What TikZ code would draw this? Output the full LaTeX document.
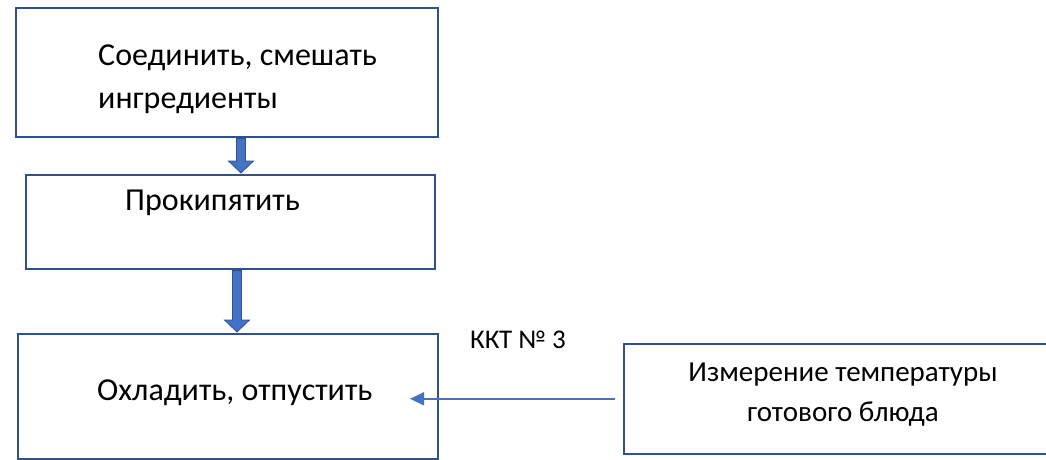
\documentclass[tikz,border=0pt]{standalone}
\usepackage{fontspec}
\setmainfont{Carlito}
\usetikzlibrary{positioning,calc,arrows.meta}
\definecolor{rahmen}{HTML}{2F528F}
\definecolor{pfeil}{HTML}{4472C4}

\begin{document}
\begin{tikzpicture}[
  x=1pt, y=-1pt,
  every node/.style={
    rectangle, inner sep=0pt,
    font=\fontsize{32}{43}\selectfont,
  },
  kasten/.style={draw=rahmen, line width=1.6pt, anchor=north west},
  blockpfeil/.style={draw=rahmen, fill=pfeil, line width=0.8pt,
    to path={-- ++(4.5,0) -- ($(\tikztotarget)+(4.5,-12)$) -- ++(8,0)
      -- (\tikztotarget) -- ++(-12.5,-12) -- ++(8,0)
      -- ($(\tikztostart)+(-4.5,0)$) -- cycle}},
  messpfeil/.style={draw=pfeil, line width=1.4pt, -{Triangle[length=14pt,width=13pt]}},
]
\useasboundingbox[fill=white] (0,0) rectangle (1046,460);
\clip (0,0) rectangle (1046,460);

\node[kasten, minimum width=422, minimum height=129] (mischkasten) at (15,7) {};
\node[kasten, minimum width=409, minimum height=94] (kochkasten) at (25,174) {};
\node[kasten, minimum width=420, minimum height=125] (kuehlkasten) at (17,333) {};
\node[kasten, minimum width=430, minimum height=110] (messkasten) at (623,343) {};

\node[anchor=west, align=left] (mischen) at (98,79) {Соединить, смешать\\ингредиенты};
\node[anchor=west] (kochen) at (125,203) {Прокипятить};
\node[anchor=west] (kuehlen) at (97,393) {Охладить, отпустить};
\node[anchor=west, font=\fontsize{27}{32}\selectfont] (kkt) at (470,340) {ККТ № 3};
\node[align=center, font=\fontsize{29}{40}\selectfont] (messen) at (843,395) {Измерение температуры\\готового блюда};

\path[blockpfeil] ($(mischkasten.south west)+(226,1)$) to ($(kochkasten.north west)+(216,-1)$);
\path[blockpfeil] ($(kochkasten.south west)+(212,1)$) to ($(kuehlkasten.north west)+(220,-1)$);
\path[messpfeil] ($(messkasten.west)+(-8,0)$) -- ($(messkasten.west)+(-213,0)$);
\end{tikzpicture}
\end{document}
